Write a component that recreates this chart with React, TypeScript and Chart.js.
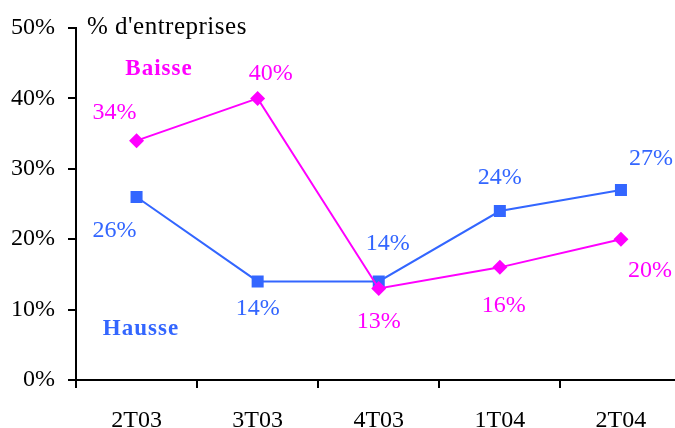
import React, { useEffect, useRef } from "react";
import { Chart, registerables } from "chart.js";

Chart.register(...registerables);

const categories = ["2T03", "3T03", "4T03", "1T04", "2T04"];
const baisse = [34, 40, 13, 16, 20];
const hausse = [26, 14, 14, 24, 27];
const yTicks = [0, 10, 20, 30, 40, 50];

const MAGENTA = "#FF00FF";
const BLUE = "#3366FF";
const FONT = "'Liberation Serif', 'DejaVu Serif', serif";

// label offsets (pixels) relative to each point
const baisseOffsets = [[-22, -28], [13, -25], [0, 33], [4, 38], [29, 32]];
const hausseOffsets = [[-22, 34], [0, 27], [9, -38], [0, -33], [30, -31]];

const labelPlugin = {
  id: "valueLabels",
  afterDatasetsDraw(chart: any) {
    const ctx = chart.ctx;
    ctx.save();
    ctx.font = `24px ${FONT}`;
    ctx.textAlign = "center";
    ctx.textBaseline = "middle";
    const offs = [baisseOffsets, hausseOffsets];
    chart.data.datasets.forEach((ds: any, di: number) => {
      const meta = chart.getDatasetMeta(di);
      ctx.fillStyle = ds.borderColor;
      meta.data.forEach((pt: any, i: number) => {
        const [dx, dy] = offs[di][i];
        ctx.fillText(`${ds.data[i]}%`, pt.x + dx, pt.y + dy);
      });
    });
    const area = chart.chartArea;
    ctx.font = `bold 23px ${FONT}`;
    ctx.fillStyle = MAGENTA;
    (ctx as any).letterSpacing = "1px";
    ctx.fillText("Baisse", area.left + 83, area.top + 41);
    ctx.fillStyle = BLUE;
    ctx.fillText("Hausse", area.left + 65, area.top + 301);
    (ctx as any).letterSpacing = "0.5px";
    ctx.font = `25px ${FONT}`;
    ctx.fillStyle = "#000";
    ctx.textAlign = "left";
    ctx.fillText("% d'entreprises", area.left + 11, area.top - 1);
    ctx.restore();
  },
};

export default function App() {
  const ref = useRef<HTMLCanvasElement>(null);
  useEffect(() => {
    if (!ref.current) return;
    const chart = new Chart(ref.current, {
      type: "line",
      data: {
        labels: categories,
        datasets: [
          {
            label: "Baisse",
            data: baisse,
            borderColor: MAGENTA,
            backgroundColor: MAGENTA,
            borderWidth: 2,
            pointStyle: "rectRot",
            pointRadius: 7.5,
            pointBorderWidth: 0,
          },
          {
            label: "Hausse",
            data: hausse,
            borderColor: BLUE,
            backgroundColor: BLUE,
            borderWidth: 2,
            pointStyle: "rect",
            pointRadius: 8.5,
            pointBorderWidth: 0,
          },
        ],
      },
      options: {
        animation: false,
        responsive: false,
        maintainAspectRatio: false,
        layout: { padding: { top: 28, right: 0, left: 0, bottom: 0 } },
        plugins: { legend: { display: false }, tooltip: { enabled: false } },
        scales: {
          x: {
            offset: true,
            border: { color: "#000", width: 2 },
            grid: {
              offset: true,
              drawOnChartArea: false,
              drawTicks: true,
              tickLength: 8,
              color: "#000",
              lineWidth: 2,
            },
            ticks: { color: "#000", font: { family: FONT, size: 24 }, padding: 18, maxRotation: 0 },
            afterFit(scale: any) {
              scale.height = 48;
            },
          },
          y: {
            min: 0,
            max: 50,
            afterBuildTicks(scale: any) {
              scale.ticks = yTicks.map((v) => ({ value: v }));
            },
            border: { color: "#000", width: 2 },
            grid: {
              drawOnChartArea: false,
              drawTicks: true,
              tickLength: 8,
              color: "#000",
              lineWidth: 2,
            },
            ticks: {
              color: "#000",
              font: { family: FONT, size: 24 },
              padding: 13,
              callback: (v: any) => `${v}%`,
            },
            afterFit(scale: any) {
              scale.width = 76;
            },
          },
        },
      },
      plugins: [labelPlugin],
    });
    return () => chart.destroy();
  }, []);
  return (
    <div
      style={{
        position: "fixed",
        left: 0,
        top: 0,
        width: 675,
        height: 428,
        overflow: "hidden",
        background: "#fff",
      }}
    >
      <div style={{ position: "absolute", left: 0, top: 0, width: 690, height: 428 }}>
        <canvas
          ref={ref}
          width={690}
          height={428}
          style={{ display: "block", width: 690, height: 428 }}
        />
      </div>
    </div>
  );
}
